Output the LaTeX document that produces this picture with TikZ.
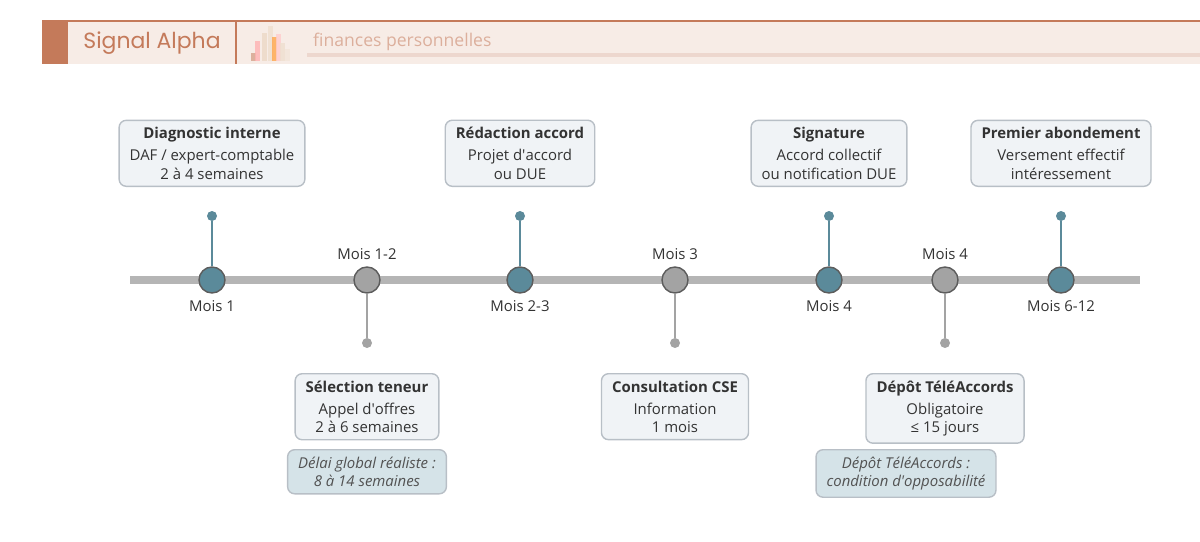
\documentclass[tikz,border=0pt]{standalone}
\usepackage{fontspec}
\setmainfont{Open Sans}
\newfontfamily\brandfont{Poppins}
\usepackage{tikz}
\definecolor{brand}{HTML}{C47A5A}
\definecolor{brandbg}{HTML}{F7ECE6}
\definecolor{tealc}{HTML}{5B8A9A}
\definecolor{grayc}{HTML}{A3A3A3}
\definecolor{boxfill}{HTML}{F0F3F6}
\definecolor{boxline}{HTML}{B8BFC6}
\definecolor{notefill}{HTML}{D5E3E8}
\definecolor{txt}{HTML}{333333}
\def\stepnode{\node[circle,draw=txt!80,line width=0.8pt,minimum size=0.52cm,inner sep=0pt]}
\def\apos{\textquotesingle}
\tikzset{
  stage/.style={draw=boxline,fill=boxfill,rounded corners=4pt,line width=0.8pt,align=center,
    font=\fontsize{8.5}{10.5}\selectfont,text=txt,inner xsep=6pt,inner ysep=4pt},
  note/.style={draw=boxline,fill=notefill,rounded corners=4pt,line width=0.8pt,align=center,
    font=\fontsize{8.5}{10.5}\selectfont\itshape,text=txt!85,inner xsep=6pt,inner ysep=4pt},
  lbl/.style={font=\fontsize{8.5}{10}\selectfont,text=txt},
  dot/.style={circle,fill=#1,inner sep=0pt,minimum size=0.2cm}
}
\begin{document}
\begin{tikzpicture}[x=0.02cm,y=-0.02cm]
\useasboundingbox (0,0) rectangle (1200,541);
% header
\fill[brandbg] (42,21) rectangle (1200,64);
\draw[brand,line width=0.6pt] (42,21) -- (1200,21);
\fill[brand] (42,21) rectangle (68,64);
\draw[brand,line width=0.6pt] (236,21) -- (236,64);
\node[font=\brandfont\fontsize{12.5}{14}\selectfont,text=brand] (brand) at (152,43) {Signal Alpha};
\foreach \x/\h/\c in {251/8/brand!70,255/20/red!30,262/28/brown!30,268/35/brown!25,272/24/orange!70,276/27/red!20,280/18/brown!25,285/12/brown!20}
  \fill[\c,opacity=0.8] (\x,61) rectangle ++(5,-\h);
\fill[brand!30] (307,53) rectangle (1200,57);
\node[anchor=west,font=\fontsize{10}{12}\selectfont,text=brand!60] (tag) at (307,42) {finances personnelles};
% timeline
\coordinate (tl_start) at (130,280);
\coordinate (tl_end) at (1140,280);
\draw[grayc!80,line width=4.5pt] (tl_start) -- (tl_end);
% upper stages
\foreach \n/\x/\m/\t/\a/\b in {d/212/Mois 1/Diagnostic interne/DAF \slash{} expert-comptable/2 à 4 semaines,
  r/520/Mois 2-3/Rédaction accord/Projet d\apos accord/ou DUE,
  s/829/Mois 4/Signature/Accord collectif/ou notification DUE,
  p/1061/Mois 6-12/Premier abondement/Versement effectif/intéressement}{
  \node[dot=tealc] (\n top) at (\x,216) {};
  \stepnode[fill=tealc] (\n) at (\x,280) {};
  \draw[tealc,line width=1pt] (\n) -- (\n top);
  \node[lbl] at (\x,306) {\m};
  \node[stage,anchor=south] at (\x,187) {\textbf{\t}\\[2pt]\a\\\b};
}
% lower stages
\foreach \n/\x/\m/\t/\a/\b in {e/367/Mois 1-2/Sélection teneur/Appel d\apos offres/2 à 6 semaines,
  c/675/Mois 3/Consultation CSE/Information/1 mois,
  t/945/Mois 4/Dépôt TéléAccords/Obligatoire/≤ 15 jours}{
  \node[dot=grayc] (\n bot) at (\x,343) {};
  \stepnode[fill=grayc] (\n) at (\x,280) {};
  \draw[grayc,line width=1pt] (\n) -- (\n bot);
  \node[lbl] at (\x,254) {\m};
  \node[stage,anchor=north] at (\x,373) {\textbf{\t}\\[2pt]\a\\\b};
}
% notes
\node[note,anchor=north] (note1) at (367,449) {Délai global réaliste :\\8 à 14 semaines};
\node[note,anchor=north] (note2) at (906,449) {Dépôt TéléAccords :\\condition d\apos opposabilité};
\end{tikzpicture}
\end{document}
